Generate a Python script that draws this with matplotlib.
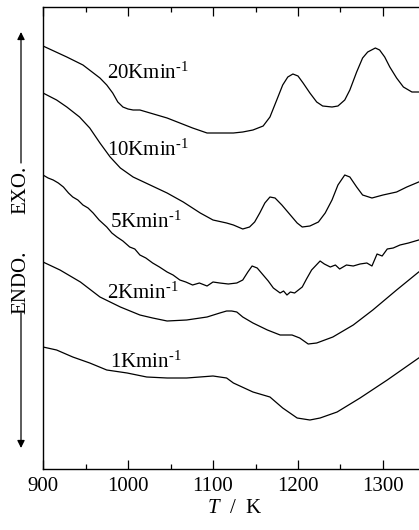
import matplotlib
matplotlib.use("Agg")
import matplotlib.pyplot as plt
from matplotlib.patches import FancyArrowPatch
from matplotlib.ticker import MultipleLocator

plt.rcParams["font.family"] = "Liberation Serif"
plt.rcParams["mathtext.fontset"] = "custom"
plt.rcParams["mathtext.rm"] = "Liberation Serif"
plt.rcParams["mathtext.it"] = "Liberation Serif:italic"

# DSC traces (temperature in K, signal in arbitrary units, curves offset)
t_20 = [900, 928, 947, 967, 975, 982, 988, 994, 1000, 1006, 1014, 1022, 1034, 1046, 1061, 1076,
        1093, 1108, 1124, 1135, 1147, 1159, 1167, 1175, 1182, 1188, 1194, 1200, 1206, 1214, 1222,
        1229, 1240, 1247, 1255, 1261, 1269, 1276, 1282, 1291, 1296, 1302, 1308, 1316, 1324, 1334, 1342]
s_20 = [423, 412, 404, 391, 384, 376, 367, 362, 360, 359, 359, 357, 354, 351, 346, 341,
        336, 336, 336, 337, 339, 343, 352, 369, 384, 392, 395, 393, 386, 376, 367,
        363, 362, 363, 369, 379, 397, 411, 417, 421, 419, 412, 402, 391, 382, 377, 377]

t_10 = [900, 916, 928, 943, 955, 967, 979, 991, 1006, 1026, 1046, 1065, 1085, 1100, 1116,
        1124, 1135, 1143, 1149, 1155, 1161, 1167, 1173, 1181, 1191, 1199, 1205, 1214, 1224,
        1232, 1240, 1247, 1255, 1261, 1269, 1276, 1287, 1300, 1316, 1328, 1342]
s_10 = [376, 369, 362, 352, 341, 326, 312, 301, 292, 284, 276, 267, 256, 249, 246,
        244, 240, 242, 247, 256, 266, 272, 271, 264, 254, 246, 242, 243, 247,
        256, 269, 284, 294, 292, 282, 274, 271, 274, 277, 282, 287]

t_5 = [900, 906, 912, 918, 924, 930, 935, 941, 947, 953, 959, 966, 975, 981, 987, 994, 1002, 1008,
       1014, 1021, 1029, 1037, 1046, 1053, 1061, 1068, 1076, 1084, 1093, 1100, 1108, 1118, 1128, 1135,
       1141, 1146, 1152, 1159, 1165, 1171, 1179, 1183, 1187, 1191, 1196, 1205, 1210, 1216, 1226,
       1231, 1238, 1244, 1249, 1257, 1265, 1273, 1281, 1287, 1293, 1299, 1305, 1312, 1320, 1330, 1342]
s_5 = [294, 291, 289, 286, 282, 276, 272, 269, 264, 261, 256, 249, 242, 236, 232, 228, 222, 220,
       214, 211, 206, 202, 197, 194, 189, 187, 184, 186, 183, 187, 186, 185, 186, 189,
       197, 203, 201, 194, 188, 181, 176, 178, 174, 177, 176, 182, 190, 199, 208,
       205, 202, 204, 200, 204, 203, 205, 206, 203, 215, 213, 220, 221, 224, 226, 229]

t_2 = [900, 920, 944, 967, 991, 1014, 1029, 1046, 1069, 1093, 1108, 1116, 1122, 1128, 1135,
       1147, 1164, 1179, 1193, 1202, 1212, 1222, 1241, 1265, 1288, 1316, 1342]
s_2 = [207, 199, 187, 172, 162, 154, 151, 148, 149, 152, 156, 158, 158, 157, 152,
       146, 139, 134, 134, 131, 125, 126, 132, 144, 159, 179, 197]

t_1 = [900, 916, 935, 955, 975, 999, 1022, 1046, 1069, 1100, 1116, 1124, 1147, 1167, 1182,
       1199, 1214, 1226, 1246, 1273, 1305, 1342]
s_1 = [122, 119, 112, 106, 99, 96, 92, 91, 91, 93, 91, 86, 77, 72, 61,
       51, 49, 51, 57, 71, 89, 111]

curves = [(t_20, s_20), (t_10, s_10), (t_5, s_5), (t_2, s_2), (t_1, s_1)]
labels = ["20", "10", "5", "2", "1"]
label_x = [975, 975, 979, 975, 979]
label_y = [396, 319, 247, 176, 107]

fig = plt.figure(figsize=(4.19, 5.30), dpi=100)
ax = fig.add_axes([43 / 419, 1 - 469 / 530, 382.5 / 419, 462 / 530])

for t, s in curves:
    ax.plot(t, s, color="black", lw=0.9)

for lab, x, y in zip(labels, label_x, label_y):
    ax.text(x, y, lab + r"Kmin$^{\text{-1}}$", fontsize=15, ha="left", va="center")

ax.set_xlim(900, 1350)
ax.set_ylim(0, 462)
ax.xaxis.set_major_locator(MultipleLocator(100))
ax.xaxis.set_minor_locator(MultipleLocator(50))
ax.tick_params(axis="x", which="both", direction="in", top=True, labelsize=15, pad=6)
ax.tick_params(axis="x", which="major", length=6.5, width=0.9)
ax.tick_params(axis="x", which="minor", length=3.5, width=0.9)
ax.set_yticks([])
for sp in ax.spines.values():
    sp.set_linewidth(1.0)

ax.set_xlabel(r"$\it{T}$  /  K", fontsize=15, labelpad=2)

# EXO / ENDO axis marker
xa = 21 / 419
fig.text(xa, 1 - 190 / 530, "EXO.", rotation=90, fontsize=15, ha="center", va="center")
fig.text(xa, 1 - 282 / 530, "ENDO.", rotation=90, fontsize=15, ha="center", va="center")
arrow = dict(arrowstyle="-|>", mutation_scale=11, lw=0.9, color="black", shrinkA=0, shrinkB=0)
fig.add_artist(FancyArrowPatch((xa, 1 - 163 / 530), (xa, 1 - 32 / 530),
                               transform=fig.transFigure, **arrow))
fig.add_artist(FancyArrowPatch((xa, 1 - 313 / 530), (xa, 1 - 448 / 530),
                               transform=fig.transFigure, **arrow))

fig.savefig("out.png", dpi=100)
